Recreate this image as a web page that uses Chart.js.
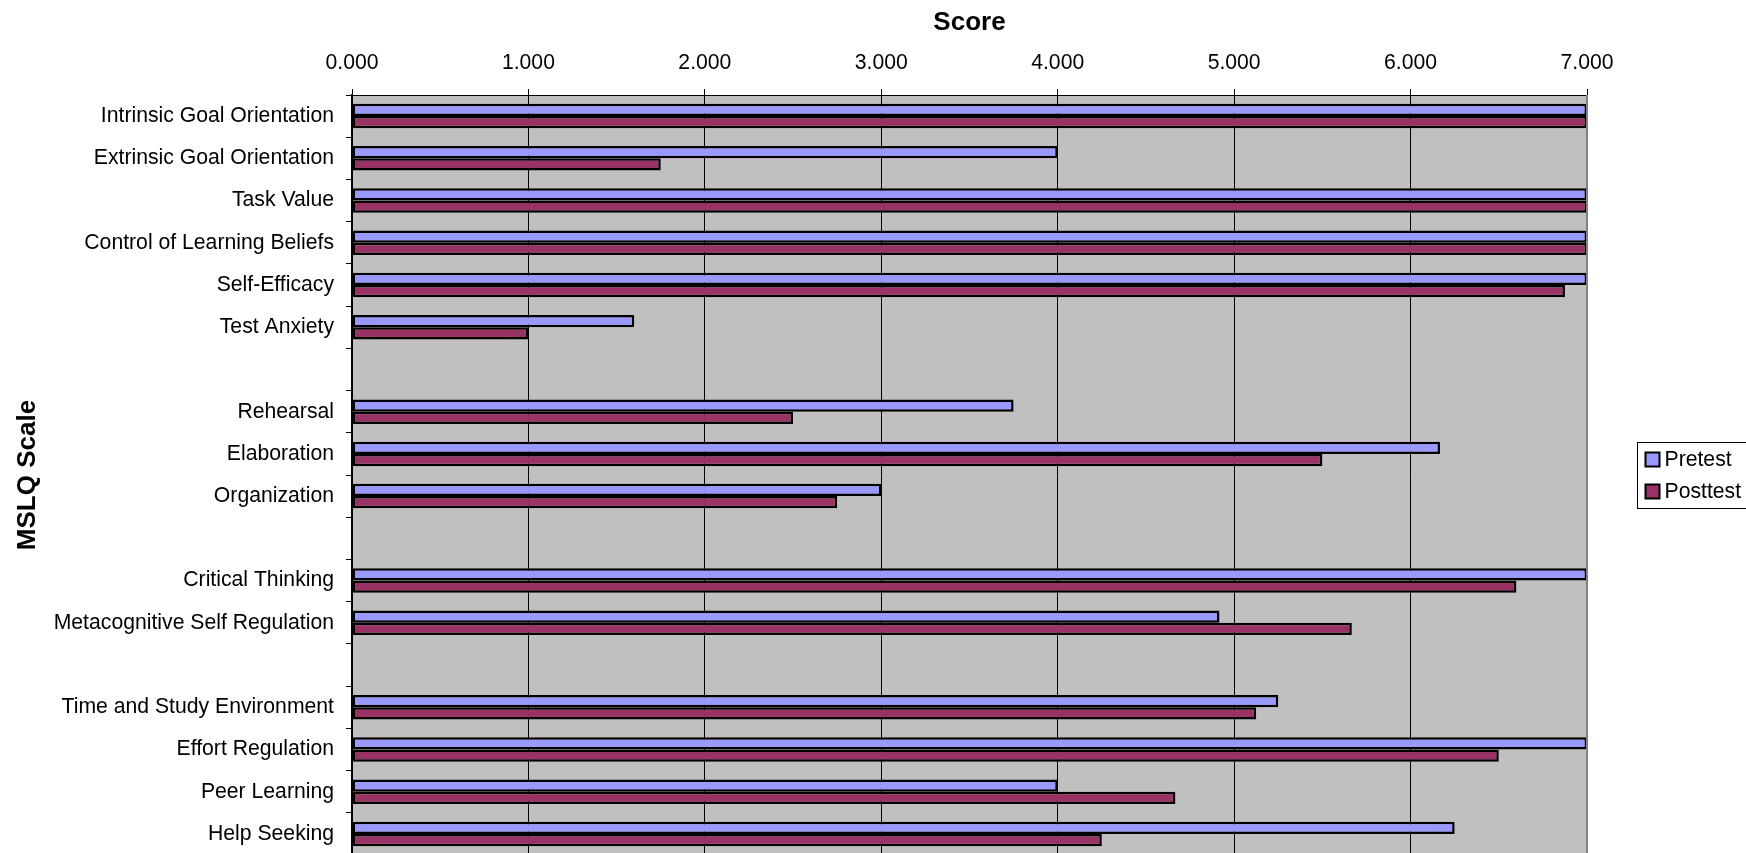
<!DOCTYPE html>
<html>
<head>
<meta charset="utf-8">
<title>MSLQ Scale Scores</title>
<script src="https://cdn.jsdelivr.net/npm/chart.js@4/dist/chart.umd.min.js"></script>
<style>
  html, body { margin: 0; padding: 0; background: #fff; overflow: hidden; }
  #chart { display: block; }
</style>
</head>
<body>
<canvas id="chart" width="1746" height="857" style="width:1746px;height:857px;"></canvas>
<script>
// MSLQ scales (blank entries separate the scale groups)
const categories = [
  'Intrinsic Goal Orientation',
  'Extrinsic Goal Orientation',
  'Task Value',
  'Control of Learning Beliefs',
  'Self-Efficacy',
  'Test Anxiety',
  '',
  'Rehearsal',
  'Elaboration',
  'Organization',
  '',
  'Critical Thinking',
  'Metacognitive Self Regulation',
  '',
  'Time and Study Environment',
  'Effort Regulation',
  'Peer Learning',
  'Help Seeking'
];

const pretest  = [7, 4, 7, 7, 7, 1.6, null, 3.75, 6.167, 3, null, 7, 4.917, null, 5.25, 7, 4, 6.25];
const posttest = [7, 1.75, 7, 7, 6.875, 1, null, 2.5, 5.5, 2.75, null, 6.6, 5.667, null, 5.125, 6.5, 4.667, 4.25];

const seriesNames = ['Pretest', 'Posttest'];
const scoreTicks = [0, 1, 2, 3, 4, 5, 6, 7];

const FONT = '"Liberation Sans", Arial, Helvetica, sans-serif';
const TEXT_SIZE = 21.2;
Chart.defaults.font.family = FONT;
Chart.defaults.color = '#000';

// grey plot area behind the grid
const plotBackground = {
  id: 'plotBackground',
  beforeDraw(chart) {
    const { ctx, chartArea: a } = chart;
    ctx.save();
    ctx.fillStyle = '#C0C0C0';
    ctx.fillRect(a.left, a.top, a.right - a.left, a.bottom - a.top);
    ctx.restore();
  }
};

// right edge of the plot area and the boxed legend
const frameAndLegend = {
  id: 'frameAndLegend',
  afterDraw(chart) {
    const { ctx, chartArea: a } = chart;
    ctx.save();
    ctx.strokeStyle = '#808080';
    ctx.lineWidth = 2;
    ctx.beginPath();
    ctx.moveTo(a.right, a.top);
    ctx.lineTo(a.right, a.bottom);
    ctx.stroke();

    const boxLeft = a.right + 50.5;
    const boxH = 66;
    const boxTop = Math.round((a.top + a.bottom) / 2 - boxH / 2) + 0.5;
    const boxW = 120;
    ctx.fillStyle = '#fff';
    ctx.fillRect(boxLeft, boxTop, boxW, boxH);
    ctx.strokeStyle = '#000';
    ctx.lineWidth = 1;
    ctx.strokeRect(boxLeft, boxTop, boxW, boxH);

    ctx.font = TEXT_SIZE + 'px ' + FONT;
    ctx.textBaseline = 'middle';
    ctx.textAlign = 'left';
    chart.data.datasets.forEach((ds, i) => {
      const cy = boxTop + 17 + i * 32;
      ctx.fillStyle = ds.backgroundColor;
      ctx.fillRect(boxLeft + 8, cy - 7, 14, 14);
      ctx.strokeStyle = '#000';
      ctx.lineWidth = 2;
      ctx.strokeRect(boxLeft + 8, cy - 7, 14, 14);
      ctx.fillStyle = '#000';
      ctx.fillText(ds.label, boxLeft + 27, cy + 1);
    });
    ctx.restore();
  }
};

new Chart(document.getElementById('chart'), {
  type: 'bar',
  data: {
    labels: categories,
    datasets: [
      {
        label: seriesNames[0],
        data: pretest,
        backgroundColor: '#9999FF',
        borderColor: '#000',
        borderWidth: 2.5,
        borderSkipped: false
      },
      {
        label: seriesNames[1],
        data: posttest,
        backgroundColor: '#993366',
        borderColor: '#000',
        borderWidth: 2.5,
        borderSkipped: false
      }
    ]
  },
  options: {
    indexAxis: 'y',
    responsive: false,
    maintainAspectRatio: false,
    devicePixelRatio: 1,
    animation: false,
    layout: { padding: { left: 0, top: 0, right: 159, bottom: 2 } },
    datasets: {
      bar: { categoryPercentage: 0.58, barPercentage: 1.0 }
    },
    plugins: {
      legend: { display: false },
      tooltip: { enabled: false },
      title: { display: false }
    },
    scales: {
      x: {
        position: 'top',
        min: 0,
        max: 7,
        afterBuildTicks(scale) {
          scale.ticks = scoreTicks.map(v => ({ value: v }));
        },
        afterFit(scale) { scale.height = 95; },
        ticks: {
          font: { size: TEXT_SIZE },
          color: '#000',
          padding: 13,
          callback: v => Number(v).toFixed(3)
        },
        grid: {
          color: '#000',
          lineWidth: 1,
          drawTicks: true,
          tickLength: 6,
          tickColor: '#000'
        },
        border: { display: true, color: '#000', width: 1 },
        title: {
          display: true,
          text: 'Score',
          color: '#000',
          font: { size: 26, weight: 'bold' },
          padding: { top: 7, bottom: 0 }
        }
      },
      y: {
        afterFit(scale) {
          scale.width = 352;
          scale.paddingTop = 0;
          scale.paddingBottom = 0;
        },
        ticks: {
          autoSkip: false,
          font: { size: TEXT_SIZE },
          color: '#000',
          padding: 12
        },
        grid: {
          offset: true,
          drawOnChartArea: false,
          drawTicks: true,
          tickLength: 6,
          color: '#000',
          tickColor: '#000'
        },
        border: { display: true, color: '#000', width: 2 },
        title: {
          display: true,
          text: 'MSLQ Scale',
          color: '#000',
          font: { size: 26, weight: 'bold' },
          padding: { top: 12, bottom: 0 }
        }
      }
    }
  },
  plugins: [plotBackground, frameAndLegend]
});
</script>
</body>
</html>
